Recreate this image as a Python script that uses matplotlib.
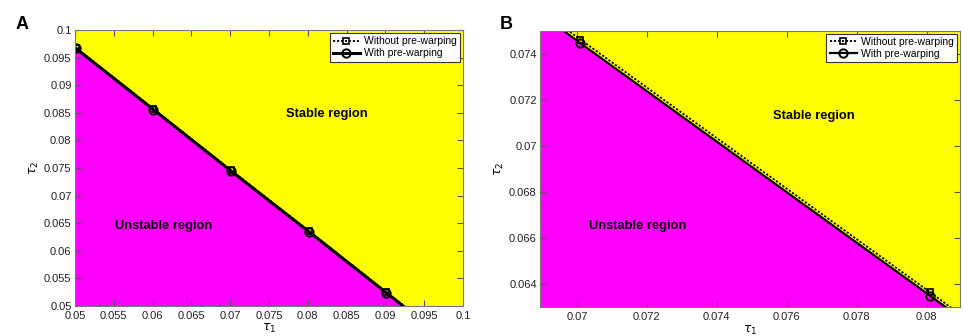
import numpy as np
import matplotlib
matplotlib.use('Agg')
import matplotlib.pyplot as plt
from matplotlib.ticker import FuncFormatter

plt.rcParams['font.family'] = ['Liberation Sans', 'DejaVu Sans']
plt.rcParams['mathtext.fontset'] = 'dejavusans'

# stability boundary (tau1 -> tau2)
tau1 = [0.04, 0.0501, 0.0601, 0.0701, 0.0801, 0.0901, 0.11]
tau2_with = [0.1079, 0.0967, 0.0856, 0.07446, 0.0635, 0.0524, 0.0303]
tau2_without = [0.10805, 0.09685, 0.08575, 0.07462, 0.06365, 0.05255, 0.03045]

labels = ['Without pre-warping', 'With pre-warping']
region_text = ['Stable region', 'Unstable region']

# panel settings: limits and ticks
xlim_a, ylim_a = (0.05, 0.1), (0.05, 0.1)
ticks_a = np.arange(0.05, 0.1001, 0.005)
xlim_b, ylim_b = (0.06895, 0.08095), (0.063, 0.075)
xticks_b = np.arange(0.07, 0.0801, 0.002)
yticks_b = np.arange(0.064, 0.0741, 0.002)
text_pos_a = [(0.0825, 0.0848), (0.0614, 0.0645)]
text_pos_b = [(0.07676, 0.07132), (0.07173, 0.06651)]

fmt = FuncFormatter(lambda v, p: '%g' % round(v, 4))

fig = plt.figure(figsize=(9.63, 3.36), dpi=100)
ax_a = fig.add_axes([0.0779, 0.0893, 0.403, 0.821])
ax_b = fig.add_axes([0.561, 0.0854, 0.4358, 0.823])


def draw(ax, xlim, ylim, xt, yt, tpos, lw_with):
    ax.set_facecolor('#ffff00')
    ax.fill_between(tau1, tau2_with, -1, color='#ff00ff', lw=0)
    ax.plot(tau1, tau2_without, color='k', lw=1.3, dashes=(1.2, 1.0),
            marker='s', ms=5, mfc='none', mew=1.2,
            markevery=slice(1, -1), label=labels[0])
    ax.plot(tau1, tau2_with, '-', color='k', lw=lw_with, marker='o', ms=6,
            mfc='none', mew=1.4, markevery=slice(1, -1), label=labels[1])
    ax.set_xlim(*xlim)
    ax.set_ylim(*ylim)
    ax.set_xticks(xt)
    ax.set_yticks(yt)
    ax.xaxis.set_major_formatter(fmt)
    ax.yaxis.set_major_formatter(fmt)
    ax.tick_params(direction='in', top=True, right=True, labelsize=8,
                   length=4, color='#555555', labelcolor='#222222')
    ax.tick_params(axis='x', pad=3.5)
    ax.tick_params(axis='y', pad=2.5)
    for s in ax.spines.values():
        s.set_color('#777777')
    ax.set_xlabel(r'$\tau_1$', fontsize=9, labelpad=1)
    ax.set_ylabel(r'$\tau_2$', fontsize=9, labelpad=2)
    for t, (x, y) in zip(region_text, tpos):
        ax.text(x, y, t, ha='center', va='center', fontsize=9.3,
                fontweight='bold')
    leg = ax.legend(loc='upper right', fontsize=7.5, fancybox=False,
                    framealpha=1, edgecolor='#333333', borderaxespad=0.3,
                    handlelength=2.6, borderpad=0.3, labelspacing=0.2,
                    handletextpad=0.4)
    leg.get_frame().set_linewidth(0.8)


draw(ax_a, xlim_a, ylim_a, ticks_a, ticks_a, text_pos_a, 2.2)
draw(ax_b, xlim_b, ylim_b, xticks_b, yticks_b, text_pos_b, 1.6)

fig.text(0.016, 0.915, 'A', fontsize=13, fontweight='bold')
fig.text(0.519, 0.915, 'B', fontsize=13, fontweight='bold')

fig.savefig('out.png', dpi=100)
